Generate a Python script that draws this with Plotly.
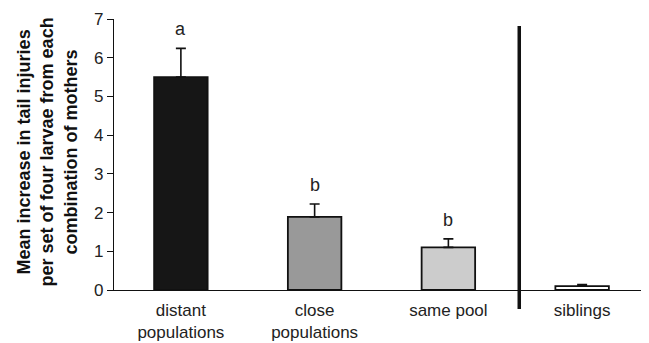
import plotly.graph_objects as go

categories = ["distant<br>populations", "close<br>populations", "same pool", "siblings"]
means = [5.5, 1.89, 1.10, 0.10]
errors = [0.74, 0.33, 0.22, 0.04]
letters = ["a", "b", "b", ""]
bar_colors = ["#161616", "#999999", "#cccccc", "#ffffff"]
y_ticks = [0, 1, 2, 3, 4, 5, 6, 7]

# page body adds an 8px margin, so the figure is sized to the visible area
W, H = 641, 335
FONT = "Liberation Sans, Arial, sans-serif"

x_idx = list(range(len(categories)))

fig = go.Figure()
fig.add_trace(go.Bar(
    x=x_idx, y=means, width=0.4,
    marker=dict(color=bar_colors, line=dict(color="#111111", width=1.8)),
    error_y=dict(type="data", symmetric=False, array=errors,
                 arrayminus=[0] * len(errors), color="#111111",
                 thickness=1.6, width=5),
    showlegend=False,
))

for i, (m, e, t) in enumerate(zip(means, errors, letters)):
    if t:
        fig.add_annotation(x=i, y=m + e, text=t, showarrow=False,
                           yanchor="middle", yshift=19,
                           font=dict(family=FONT, size=18, color="#222222"))

# separator line between groups
fig.add_shape(type="line", xref="x", yref="paper",
              x0=2.53, x1=2.53, y0=-0.07, y1=0.974,
              line=dict(color="#111111", width=3.5))

fig.add_annotation(
    xref="paper", yref="paper", x=-0.124, y=0.51,
    text="<b>Mean increase in tail injuries<br>per set of four larvae from each<br>combination of mothers</b>",
    textangle=-90, showarrow=False, xanchor="center", yanchor="middle",
    font=dict(family=FONT, size=18, color="#111111"),
    align="center",
)
fig.update_layout(
    width=W, height=H,
    margin=dict(l=106, r=0, t=11, b=53),
    plot_bgcolor="white", paper_bgcolor="white",
    font=dict(family=FONT, size=17, color="#222222"),
    bargap=0.6,
)
fig.update_xaxes(
    range=[-0.5, 3.5], tickvals=x_idx, ticktext=categories,
    showline=True, linecolor="#111111", linewidth=1.2,
    ticks="", showgrid=False, zeroline=False, ticklabelstandoff=4,
    tickfont=dict(family=FONT, size=17, color="#222222"),
    fixedrange=True,
)
fig.update_yaxes(
    range=[0, 7], tickvals=y_ticks,
    showline=True, linecolor="#111111", linewidth=1.2,
    ticks="outside", ticklen=6, tickcolor="#111111", tickwidth=1.2,
    showgrid=False, zeroline=False,
    tickfont=dict(family=FONT, size=17, color="#222222"),
    fixedrange=True,
)

fig.write_html("out.html")
